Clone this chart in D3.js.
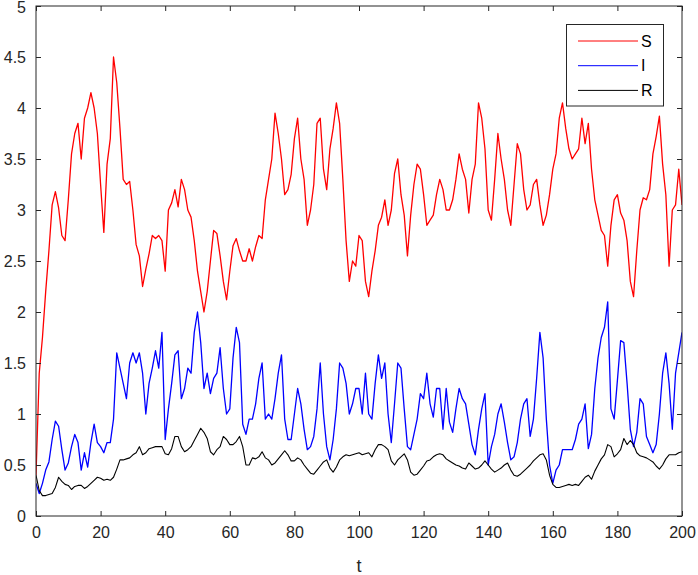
<!DOCTYPE html>
<html>
<head>
<meta charset="utf-8">
<script src="https://cdn.jsdelivr.net/npm/d3@7"></script>
<style>
  html, body { margin: 0; padding: 0; background: #fff; }
  svg { display: block; font-family: "Liberation Sans", Arial, Helvetica, sans-serif; }
</style>
</head>
<body>
<svg id="chart" width="698" height="575"></svg>
<script>
// ---- data (step dt = 1) ----
const tStart = 0, tEnd = 200, dt = 1;
const t = d3.range(tStart, tEnd + dt / 2, dt);

const S = [
  0.4, 1.4, 1.75, 2.2, 2.6, 3.05, 3.18, 3.02, 2.75, 2.7,
  3.1, 3.55, 3.75, 3.85, 3.5, 3.9, 4.0, 4.15, 4.0, 3.75,
  3.25, 2.78, 3.45, 3.7, 4.5, 4.25, 3.8, 3.3, 3.25, 3.28,
  3.0, 2.66, 2.55, 2.25, 2.42, 2.57, 2.75, 2.72, 2.75, 2.7,
  2.4, 3.0, 3.07, 3.2, 3.03, 3.3, 3.2, 3.0, 2.93, 2.7,
  2.4, 2.2, 2.0, 2.2, 2.5, 2.8, 2.77, 2.55, 2.3, 2.12,
  2.4, 2.65, 2.72, 2.6, 2.5, 2.5, 2.62, 2.5, 2.64, 2.75,
  2.72, 3.1, 3.3, 3.5, 3.95, 3.75, 3.5, 3.15, 3.2, 3.35,
  3.7, 3.9, 3.5, 3.3, 2.85, 3.0, 3.25, 3.85, 3.9, 3.4,
  3.2, 3.6, 3.8, 4.05, 3.85, 3.3, 2.7, 2.3, 2.5, 2.45,
  2.75, 2.7, 2.3, 2.15, 2.4, 2.6, 2.85, 2.93, 3.1, 2.85,
  3.0, 3.36, 3.5, 3.15, 2.95, 2.55, 2.95, 3.25, 3.45, 3.4,
  3.15, 2.85, 2.9, 2.95, 3.15, 3.3, 3.2, 3.0, 3.0, 3.1,
  3.3, 3.55, 3.4, 3.3, 2.97, 3.3, 3.45, 4.05, 3.9, 3.6,
  3.0, 2.9, 3.3, 3.75, 3.5, 3.3, 3.0, 2.85, 3.25, 3.65,
  3.55, 3.2, 3.0, 3.05, 3.25, 3.3, 3.05, 2.85, 2.95, 3.15,
  3.4, 3.55, 3.9, 4.05, 3.8, 3.6, 3.5, 3.55, 3.6, 3.9,
  3.65, 3.85, 3.4, 3.1, 2.95, 2.8, 2.75, 2.45, 2.85, 3.1,
  3.15, 2.97, 2.9, 2.7, 2.3, 2.15, 2.6, 3.0, 3.12, 3.1,
  3.2, 3.55, 3.72, 3.92, 3.45, 3.15, 2.45, 3.0, 3.05, 3.4,
  3.05
];

const I = [
  0.32, 0.22, 0.32, 0.45, 0.53, 0.75, 0.93, 0.88, 0.65, 0.45,
  0.52, 0.68, 0.8, 0.72, 0.45, 0.62, 0.48, 0.72, 0.9, 0.72,
  0.68, 0.62, 0.72, 0.72, 0.95, 1.6, 1.45, 1.3, 1.15, 1.5,
  1.6, 1.5, 1.6, 1.4, 1.0, 1.3, 1.45, 1.62, 1.45, 1.8,
  0.75, 1.05, 1.3, 1.58, 1.62, 1.15, 1.25, 1.45, 1.4, 1.8,
  2.0, 1.7, 1.25, 1.4, 1.2, 1.35, 1.4, 1.65, 1.25, 1.0,
  1.05, 1.55, 1.85, 1.7, 0.9, 0.8, 0.95, 0.95, 1.1, 1.35,
  1.5, 0.95, 1.0, 0.95, 1.15, 1.4, 1.58, 0.95, 0.75, 0.75,
  1.0, 1.25, 1.1, 0.85, 0.65, 0.68, 0.78, 1.05, 1.5, 1.0,
  0.68, 0.55, 0.75, 1.05, 1.5, 1.45, 1.3, 1.0, 1.1, 1.25,
  1.25, 1.0, 1.4, 1.0, 0.95, 1.3, 1.58, 1.35, 1.5, 1.0,
  0.72, 1.1, 1.5, 1.45, 1.05, 0.68, 0.65, 0.8, 0.95, 1.2,
  1.15, 1.4, 1.1, 0.97, 1.25, 1.25, 0.85, 1.25, 0.92, 0.82,
  1.05, 1.25, 1.15, 1.1, 0.9, 0.7, 0.6, 0.85, 1.05, 1.2,
  0.5, 0.68, 0.8, 1.0, 1.1, 0.92, 0.72, 0.55, 0.58, 0.72,
  0.95, 1.1, 1.15, 0.78, 0.95, 1.35, 1.8, 1.55, 0.95, 0.5,
  0.32, 0.45, 0.5, 0.65, 0.65, 0.65, 0.65, 0.75, 0.9, 0.95,
  1.1, 0.66, 0.8, 1.25, 1.55, 1.75, 1.85, 2.1, 1.05, 0.95,
  1.33, 1.72, 1.7, 1.3, 0.85, 0.68, 0.82, 1.15, 1.1, 0.78,
  0.7, 0.62, 0.7, 1.0, 1.4, 1.6, 1.3, 0.85, 1.4, 1.6,
  1.8
];

const R = [
  0.4, 0.25, 0.2, 0.2, 0.21, 0.22, 0.28, 0.38, 0.34, 0.31,
  0.3, 0.26, 0.29, 0.3, 0.3, 0.27, 0.29, 0.32, 0.35, 0.38,
  0.37, 0.35, 0.36, 0.35, 0.38, 0.46, 0.55, 0.55, 0.56, 0.57,
  0.6, 0.62, 0.68, 0.6, 0.62, 0.66, 0.67, 0.68, 0.68, 0.68,
  0.61, 0.6, 0.66, 0.78, 0.78, 0.68, 0.63, 0.65, 0.68, 0.74,
  0.8, 0.86, 0.82, 0.76, 0.63, 0.6, 0.65, 0.68, 0.78, 0.75,
  0.7, 0.7, 0.73, 0.78, 0.68, 0.5, 0.5, 0.57, 0.56, 0.58,
  0.63, 0.57, 0.55, 0.5, 0.52, 0.56, 0.6, 0.64, 0.6, 0.54,
  0.54, 0.57, 0.55, 0.5, 0.46, 0.42, 0.41, 0.45, 0.49, 0.53,
  0.55, 0.47, 0.43, 0.48, 0.55, 0.58, 0.6, 0.59, 0.6, 0.61,
  0.62, 0.6, 0.61, 0.62, 0.58, 0.65, 0.7, 0.7, 0.68, 0.65,
  0.54, 0.5, 0.55, 0.58, 0.61, 0.55, 0.43, 0.4, 0.41, 0.45,
  0.49, 0.54, 0.55, 0.58, 0.6, 0.61, 0.6, 0.56, 0.54, 0.52,
  0.5, 0.49, 0.47, 0.46, 0.52, 0.49, 0.46, 0.47, 0.5, 0.54,
  0.5, 0.46, 0.43, 0.45, 0.47, 0.5, 0.52, 0.45, 0.4, 0.39,
  0.41, 0.44, 0.47, 0.5, 0.54, 0.57, 0.6, 0.61, 0.55, 0.4,
  0.31, 0.28, 0.28, 0.29, 0.3, 0.31, 0.3, 0.31, 0.3, 0.34,
  0.38, 0.4, 0.36, 0.44, 0.5, 0.56, 0.6, 0.7, 0.68, 0.58,
  0.61, 0.65, 0.76, 0.7, 0.74, 0.7, 0.62, 0.59, 0.58, 0.57,
  0.55, 0.53, 0.49, 0.46, 0.5, 0.56, 0.6, 0.6, 0.6, 0.62,
  0.63
];

const seriesNames = ["S", "I", "R"];
const seriesColors = ["#ff0000", "#0000ff", "#000000"];
const xTicks = [0, 20, 40, 60, 80, 100, 120, 140, 160, 180, 200];
const yTicks = [0, 0.5, 1, 1.5, 2, 2.5, 3, 3.5, 4, 4.5, 5];
const xLabel = "t";

(function draw() {
  // ---- layout ----
  const pL = 36, pR = 682, pT = 6, pB = 516;
  const axisColor = "#262626";

  const svg = d3.select("#chart");
  const x = d3.scaleLinear().domain([0, 200]).range([pL, pR]);
  const y = d3.scaleLinear().domain([0, 5]).range([pB, pT]);

  svg.append("defs").append("clipPath").attr("id", "plotclip")
    .append("rect").attr("x", pL).attr("y", pT).attr("width", pR - pL).attr("height", pB - pT);

  const data = [S, I, R];
  const line = d3.line().x((d, i) => x(t[i])).y(d => y(d));

  const plot = svg.append("g").attr("clip-path", "url(#plotclip)");
  data.forEach((vals, k) => {
    plot.append("path")
      .datum(vals)
      .attr("fill", "none")
      .attr("stroke", seriesColors[k])
      .attr("stroke-width", k === 2 ? 1.1 : 1.3)
      .attr("stroke-linejoin", "round")
      .attr("d", line);
  });

  const fmt = d3.format("~g");
  const tickLen = 5;

  const gx = svg.append("g").attr("transform", `translate(0,${pB})`)
    .call(d3.axisBottom(x).tickValues(xTicks).tickFormat(fmt).tickSizeInner(-tickLen).tickSizeOuter(0).tickPadding(14));
  const gxTop = svg.append("g").attr("transform", `translate(0,${pT})`)
    .call(d3.axisTop(x).tickValues(xTicks).tickFormat("").tickSizeInner(-tickLen).tickSizeOuter(0));
  const gy = svg.append("g").attr("transform", `translate(${pL},0)`)
    .call(d3.axisLeft(y).tickValues(yTicks).tickFormat(fmt).tickSizeInner(-tickLen).tickSizeOuter(0).tickPadding(10));
  const gyR = svg.append("g").attr("transform", `translate(${pR},0)`)
    .call(d3.axisRight(y).tickValues(yTicks).tickFormat("").tickSizeInner(-tickLen).tickSizeOuter(0));

  [gx, gxTop, gy, gyR].forEach(g => {
    g.select(".domain").remove();
    g.selectAll(".tick line").attr("stroke", axisColor).attr("stroke-width", 1);
    g.selectAll(".tick text").attr("fill", axisColor).style("font-size", "16px")
      .style("font-family", '"Liberation Sans", Arial, Helvetica, sans-serif');
  });
  gx.selectAll(".tick text").attr("dy", "0.5em");
  gy.selectAll(".tick text").attr("dy", d => d === 5 ? "0.42em" : "0.36em");

  svg.append("rect")
    .attr("x", pL).attr("y", pT).attr("width", pR - pL).attr("height", pB - pT)
    .attr("fill", "none").attr("stroke", axisColor).attr("stroke-width", 1);

  svg.append("text")
    .attr("x", (pL + pR) / 2).attr("y", 572)
    .attr("text-anchor", "middle")
    .attr("fill", axisColor)
    .style("font-size", "18px")
    .text(xLabel);

  // legend
  const lg = svg.append("g");
  lg.append("rect").attr("x", 566.5).attr("y", 24.5).attr("width", 97).attr("height", 81.5)
    .attr("fill", "#fff").attr("stroke", axisColor).attr("stroke-width", 1);
  seriesNames.forEach((name, k) => {
    const yy = 41 + k * 24.7;
    lg.append("line").attr("x1", 578).attr("x2", 638).attr("y1", yy).attr("y2", yy)
      .attr("stroke", seriesColors[k]).attr("stroke-width", 1);
    lg.append("text").attr("x", 641).attr("y", yy).attr("dy", "0.36em")
      .attr("fill", "#000").style("font-size", "16px").text(name);
  });
})();
</script>
</body>
</html>
